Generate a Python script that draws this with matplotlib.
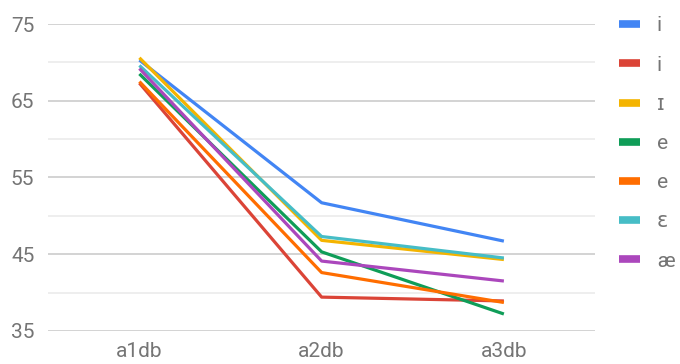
import matplotlib.pyplot as plt
import numpy as np

plt.rcParams['font.family'] = ['Roboto', 'DejaVu Sans']

categories = ['a1db', 'a2db', 'a3db']
labels = ['i', 'i', 'ɪ', 'e', 'e', 'ɛ', 'æ']
colors = ['#4285F4', '#DB4437', '#F4B400', '#0F9D58', '#FF6D00', '#46BDC6', '#AB47BC']

vowel_i1 = [70.3, 51.7, 46.7]
vowel_i2 = [67.3, 39.4, 38.9]
vowel_I = [70.6, 46.8, 44.3]
vowel_e1 = [68.5, 45.3, 37.2]
vowel_e2 = [67.5, 42.6, 38.7]
vowel_eps = [69.6, 47.3, 44.5]
vowel_ae = [69.2, 44.1, 41.5]
series = [vowel_i1, vowel_i2, vowel_I, vowel_e1, vowel_e2, vowel_eps, vowel_ae]

grey = '#757575'

fig = plt.figure(figsize=(6.8, 3.64), dpi=100)
ax = fig.add_axes([0.071, 0.091, 0.804, 0.843])

x = np.arange(len(categories))
handles = []
for vals, col, lab in zip(series, colors, labels):
    ax.plot(x, vals, color=col, lw=2.3, solid_capstyle='butt', zorder=3)
    handles.append(plt.Line2D([], [], color=col, lw=5.5, solid_capstyle='butt', label=lab))

ax.set_xlim(-0.5, 2.5)
ax.set_ylim(35, 75)
ax.set_xticks(x)
ax.set_xticklabels(categories)
ax.set_yticks([35, 45, 55, 65, 75])
ax.set_yticks([40, 50, 60, 70], minor=True)
ax.grid(True, axis='y', which='major', color='#cccccc', lw=1.2, zorder=0)
ax.grid(True, axis='y', which='minor', color='#ebebeb', lw=1.2, zorder=0)
for s in ax.spines.values():
    s.set_visible(False)
ax.tick_params(axis='both', which='both', length=0, labelsize=15, labelcolor=grey)
ax.tick_params(axis='y', pad=10)
ax.tick_params(axis='x', pad=8)

fig.legend(handles=handles, loc='upper left', bbox_to_anchor=(0.911, 0.955),
           frameon=False, fontsize=15, labelcolor=grey, handlelength=1.0,
           handletextpad=0.8, labelspacing=0.97, borderpad=0, borderaxespad=0)

fig.savefig('out.png', dpi=100)
